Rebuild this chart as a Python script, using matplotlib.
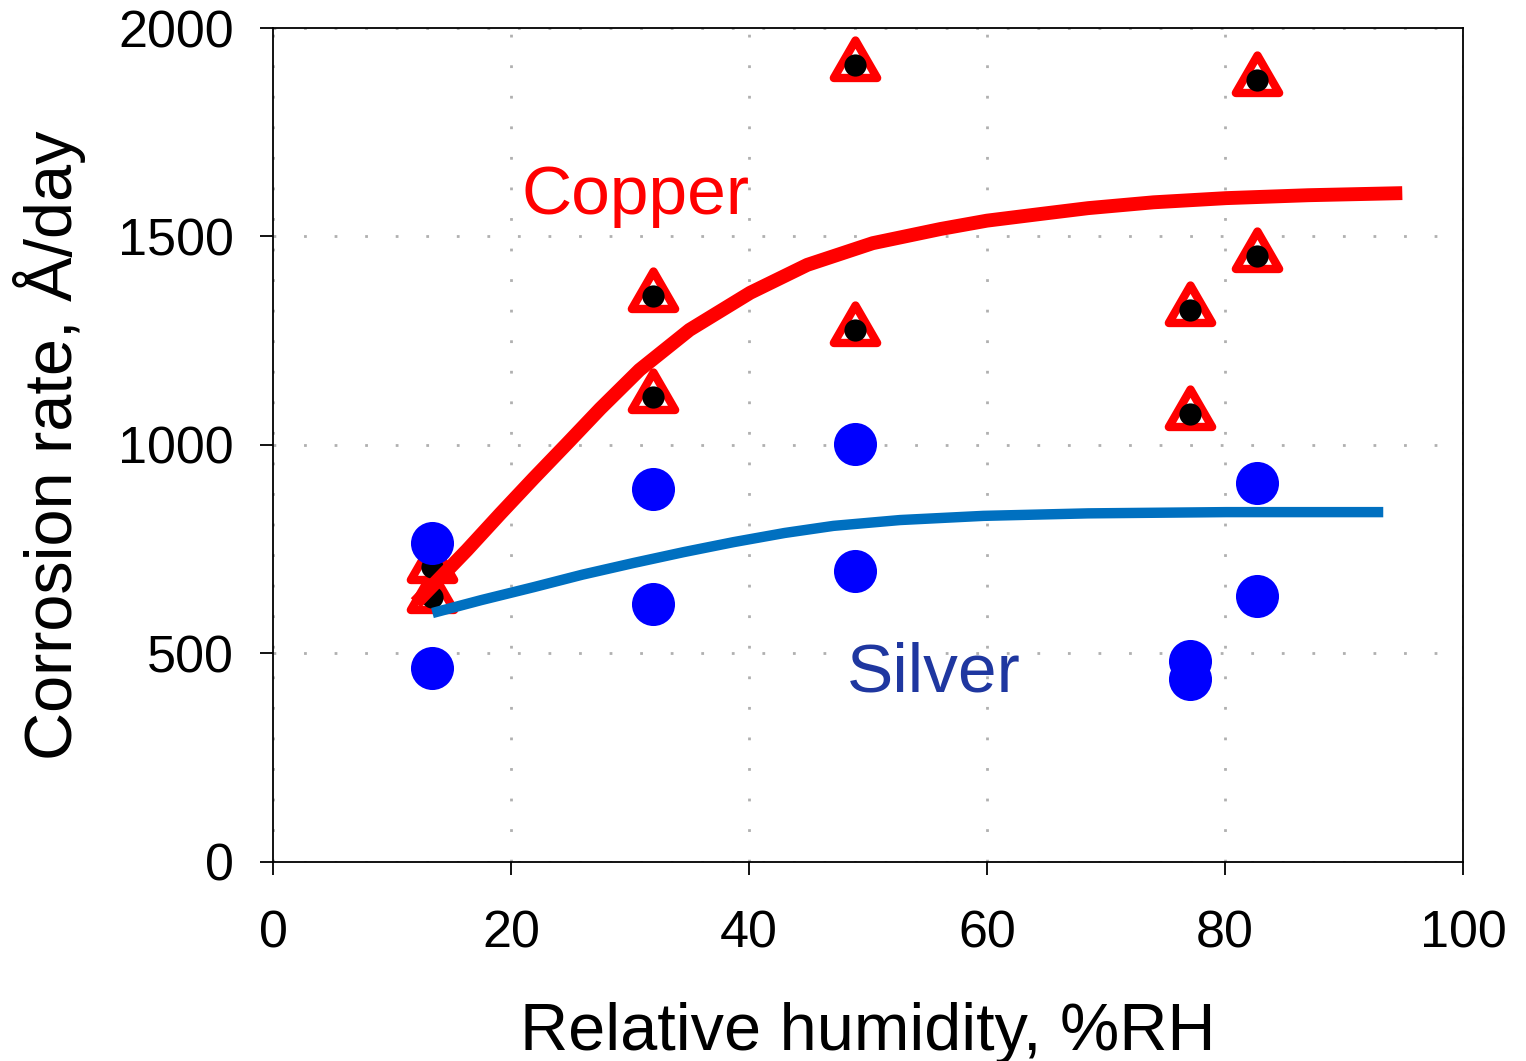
import matplotlib
matplotlib.use("Agg")
import matplotlib.pyplot as plt
from matplotlib.path import Path
from matplotlib.markers import MarkerStyle

plt.rcParams['font.family'] = ['Liberation Sans', 'DejaVu Sans']

# measured points, copper (triangle + black dot)
cu_x = [13.4, 13.4, 31.9, 31.9, 48.9, 48.9, 77.1, 77.1, 82.7, 82.7]
cu_y = [707, 635, 1357, 1115, 1911, 1276, 1324, 1074, 1875, 1453]

# measured points, silver (blue circles)
ag_x = [13.4, 13.4, 31.9, 31.9, 48.9, 48.9, 77.1, 77.1, 82.7, 82.7]
ag_y = [765, 465, 894, 619, 1002, 698, 482, 439, 909, 638]

# trend curves
cu_fit_x = [12.0, 16.3, 19.1, 21.9, 24.7, 27.5, 30.8, 35.0, 40.1, 44.9, 50.4, 56.1,
            60.0, 64.5, 68.5, 74.0, 80.1, 87.0, 94.9]
cu_fit_y = [621, 748, 835, 920, 1003, 1087, 1180, 1276, 1365, 1432, 1484, 1518,
            1538, 1554, 1568, 1582, 1592, 1599, 1604]
ag_fit_x = [13.4, 17.5, 21.9, 26.0, 30.3, 34.5, 38.7, 43.0, 47.1, 52.7, 59.7, 68.5, 80.1, 93.3]
ag_fit_y = [597, 628, 659, 689, 717, 743, 767, 789, 806, 820, 830, 836, 839, 839]

x_ticks = [0, 20, 40, 60, 80, 100]
y_ticks = [0, 500, 1000, 1500, 2000]

# equilateral triangle centred on its centroid
tri = MarkerStyle(Path([(-1, -0.577), (1, -0.577), (0, 1.155), (-1, -0.577)],
                       [Path.MOVETO, Path.LINETO, Path.LINETO, Path.CLOSEPOLY]),
                  joinstyle='miter')

fig = plt.figure(figsize=(15.26, 10.61), dpi=100)
ax = fig.add_axes([0.1789, 0.1876, 0.7798, 0.786])

ax.plot(cu_x, cu_y, linestyle='none', marker=tri, markersize=36,
        markerfacecolor='white', markeredgecolor='#ff0000', markeredgewidth=6, zorder=3)
ax.plot(cu_x, cu_y, linestyle='none', marker='o', markersize=16,
        color='black', markeredgewidth=0, zorder=4)
ax.plot(ag_x, ag_y, linestyle='none', marker='o', markersize=31,
        color='#0000ff', markeredgewidth=0, zorder=5)
ax.plot(cu_fit_x, cu_fit_y, color='#ff0000', linewidth=10, solid_joinstyle='round',
        solid_capstyle='butt', zorder=6)
ax.plot(ag_fit_x, ag_fit_y, color='#0070c0', linewidth=7.5, solid_joinstyle='round',
        solid_capstyle='butt', zorder=7)

ax.text(20.9, 1554, 'Copper', color='#ff0000', fontsize=50, ha='left', va='baseline', zorder=8)
ax.text(48.2, 408, 'Silver', color='#1f37a0', fontsize=50, ha='left', va='baseline', zorder=8)

ax.set_xlim(0, 100)
ax.set_ylim(0, 2000)
ax.set_xticks(x_ticks)
ax.set_yticks(y_ticks)
ax.tick_params(axis='both', direction='out', length=9.4, width=1.3, labelsize=37.5)
ax.tick_params(axis='y', pad=19)
ax.tick_params(axis='x', pad=25)
for s in ax.spines.values():
    s.set_linewidth(1.3)

ax.grid(True, color='#b0b0b0', linestyle=(0, (1, 10)), linewidth=2)
ax.set_axisbelow(True)

ax.set_xlabel('Relative humidity, %RH', fontsize=48, labelpad=31)
ax.set_ylabel('Corrosion rate, Å/day', fontsize=48, labelpad=23)

fig.savefig('out.png', dpi=100)
